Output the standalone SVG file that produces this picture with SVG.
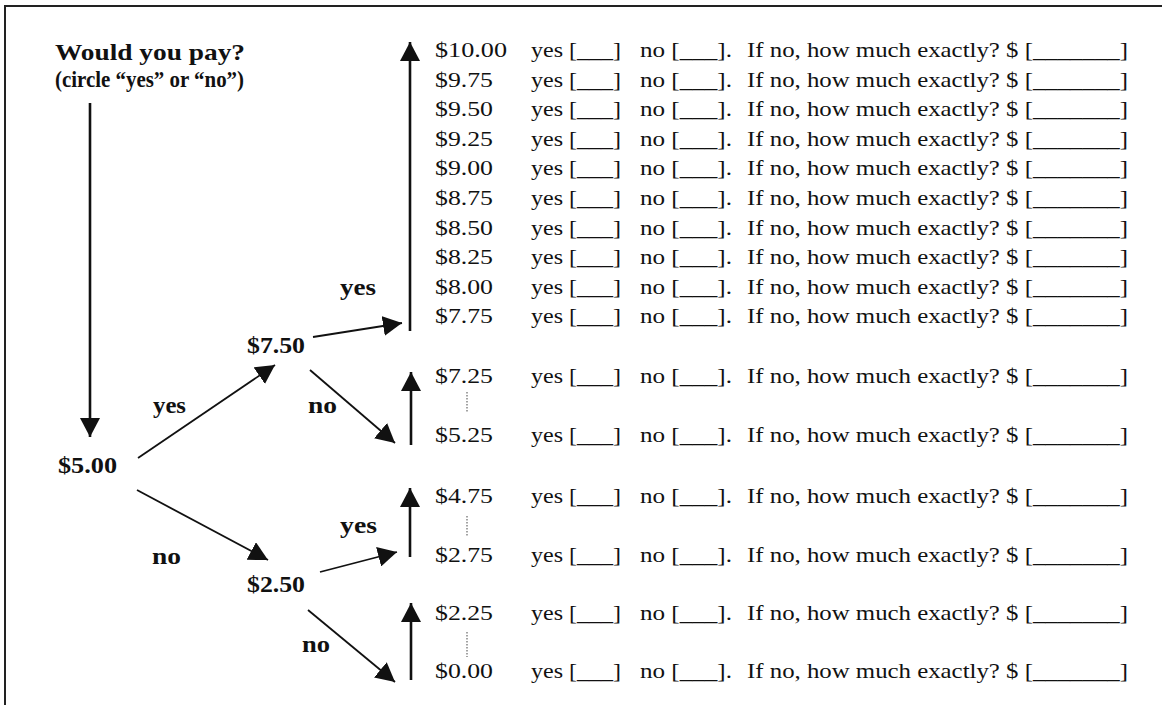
<svg xmlns="http://www.w3.org/2000/svg" width="1162" height="705" viewBox="0 0 1162 705">
<style>
.b{font-family:"Liberation Serif","Times New Roman",serif;font-weight:bold;font-size:24px;fill:#111}
.r{font-family:"Liberation Serif","Times New Roman",serif;font-size:21px;fill:#111}
.ln{stroke:#111;stroke-width:1.8;fill:none}
.vl{stroke:#111;stroke-width:2.6;fill:none}
.dot{stroke:#666;stroke-width:1.2;stroke-dasharray:1.5 1.5;fill:none}
</style>
<defs>
<marker id="ah" markerUnits="userSpaceOnUse" markerWidth="20" markerHeight="20" refX="19" refY="10" orient="auto" viewBox="0 0 20 20">
<path d="M0,0 L19,10 L0,20 z" fill="#111"/>
</marker>
</defs>
<rect width="1162" height="705" fill="#fff"/>
<path d="M5,710 V6 H1170" stroke="#222" stroke-width="2" fill="none"/>

<g id="question">
<text class="b" x="55" y="60" textLength="190" lengthAdjust="spacingAndGlyphs">Would you pay?</text>
<text class="b" x="55" y="87" textLength="189" lengthAdjust="spacingAndGlyphs">(circle “yes” or “no”)</text>
</g>
<g id="n500"><text class="b" x="58" y="473" textLength="59" lengthAdjust="spacingAndGlyphs">$5.00</text></g>
<g id="n750"><text class="b" x="247" y="353" textLength="58" lengthAdjust="spacingAndGlyphs">$7.50</text></g>
<g id="n250"><text class="b" x="247" y="592" textLength="58" lengthAdjust="spacingAndGlyphs">$2.50</text></g>

<g id="connectors">
<line class="vl" x1="90" y1="103" x2="90" y2="437" marker-end="url(#ah)"/>
<line class="ln" x1="138" y1="458" x2="275" y2="365" marker-end="url(#ah)"/>
<line class="ln" x1="313" y1="337" x2="402" y2="323" marker-end="url(#ah)"/>
<line class="vl" x1="410" y1="331" x2="410" y2="42" marker-end="url(#ah)"/>
<line class="ln" x1="310" y1="370" x2="395" y2="443" marker-end="url(#ah)"/>
<line class="vl" x1="411" y1="445" x2="411" y2="372" marker-end="url(#ah)"/>
<line class="ln" x1="137" y1="490" x2="268" y2="560" marker-end="url(#ah)"/>
<line class="vl" x1="410" y1="557" x2="410" y2="488" marker-end="url(#ah)"/>
<line class="ln" x1="320" y1="572" x2="397" y2="552" marker-end="url(#ah)"/>
<line class="vl" x1="411" y1="680" x2="411" y2="603" marker-end="url(#ah)"/>
<line class="ln" x1="308" y1="610" x2="395" y2="682" marker-end="url(#ah)"/>
<text class="b" x="153" y="413" textLength="33" lengthAdjust="spacingAndGlyphs">yes</text>
<text class="b" x="308" y="413" textLength="29" lengthAdjust="spacingAndGlyphs">no</text>
<text class="b" x="340" y="295" textLength="36" lengthAdjust="spacingAndGlyphs">yes</text>
<text class="b" x="340" y="533" textLength="37" lengthAdjust="spacingAndGlyphs">yes</text>
<text class="b" x="152" y="564" textLength="29" lengthAdjust="spacingAndGlyphs">no</text>
<text class="b" x="302" y="652" textLength="28" lengthAdjust="spacingAndGlyphs">no</text>
<line class="dot" x1="467" y1="392" x2="467" y2="412"/>
<line class="dot" x1="467" y1="516" x2="467" y2="536"/>
<line class="dot" x1="467" y1="632" x2="467" y2="657"/>
</g>

<g id="rows">
<g id="row1000"><text class="r" x="435" y="57" textLength="72" lengthAdjust="spacingAndGlyphs">$10.00</text><text class="r" x="531" y="57" textLength="90" lengthAdjust="spacingAndGlyphs">yes [___]</text><text class="r" x="640" y="57" textLength="92" lengthAdjust="spacingAndGlyphs">no [___].</text><text class="r" x="747" y="57" textLength="381" lengthAdjust="spacingAndGlyphs">If no, how much exactly? $ [_______]</text></g>
<g id="row975"><text class="r" x="435" y="86.6" textLength="58" lengthAdjust="spacingAndGlyphs">$9.75</text><text class="r" x="531" y="86.6" textLength="90" lengthAdjust="spacingAndGlyphs">yes [___]</text><text class="r" x="640" y="86.6" textLength="92" lengthAdjust="spacingAndGlyphs">no [___].</text><text class="r" x="747" y="86.6" textLength="381" lengthAdjust="spacingAndGlyphs">If no, how much exactly? $ [_______]</text></g>
<g id="row950"><text class="r" x="435" y="116.2" textLength="58" lengthAdjust="spacingAndGlyphs">$9.50</text><text class="r" x="531" y="116.2" textLength="90" lengthAdjust="spacingAndGlyphs">yes [___]</text><text class="r" x="640" y="116.2" textLength="92" lengthAdjust="spacingAndGlyphs">no [___].</text><text class="r" x="747" y="116.2" textLength="381" lengthAdjust="spacingAndGlyphs">If no, how much exactly? $ [_______]</text></g>
<g id="row925"><text class="r" x="435" y="145.8" textLength="58" lengthAdjust="spacingAndGlyphs">$9.25</text><text class="r" x="531" y="145.8" textLength="90" lengthAdjust="spacingAndGlyphs">yes [___]</text><text class="r" x="640" y="145.8" textLength="92" lengthAdjust="spacingAndGlyphs">no [___].</text><text class="r" x="747" y="145.8" textLength="381" lengthAdjust="spacingAndGlyphs">If no, how much exactly? $ [_______]</text></g>
<g id="row900"><text class="r" x="435" y="175.4" textLength="58" lengthAdjust="spacingAndGlyphs">$9.00</text><text class="r" x="531" y="175.4" textLength="90" lengthAdjust="spacingAndGlyphs">yes [___]</text><text class="r" x="640" y="175.4" textLength="92" lengthAdjust="spacingAndGlyphs">no [___].</text><text class="r" x="747" y="175.4" textLength="381" lengthAdjust="spacingAndGlyphs">If no, how much exactly? $ [_______]</text></g>
<g id="row875"><text class="r" x="435" y="205" textLength="58" lengthAdjust="spacingAndGlyphs">$8.75</text><text class="r" x="531" y="205" textLength="90" lengthAdjust="spacingAndGlyphs">yes [___]</text><text class="r" x="640" y="205" textLength="92" lengthAdjust="spacingAndGlyphs">no [___].</text><text class="r" x="747" y="205" textLength="381" lengthAdjust="spacingAndGlyphs">If no, how much exactly? $ [_______]</text></g>
<g id="row850"><text class="r" x="435" y="234.6" textLength="58" lengthAdjust="spacingAndGlyphs">$8.50</text><text class="r" x="531" y="234.6" textLength="90" lengthAdjust="spacingAndGlyphs">yes [___]</text><text class="r" x="640" y="234.6" textLength="92" lengthAdjust="spacingAndGlyphs">no [___].</text><text class="r" x="747" y="234.6" textLength="381" lengthAdjust="spacingAndGlyphs">If no, how much exactly? $ [_______]</text></g>
<g id="row825"><text class="r" x="435" y="264.2" textLength="58" lengthAdjust="spacingAndGlyphs">$8.25</text><text class="r" x="531" y="264.2" textLength="90" lengthAdjust="spacingAndGlyphs">yes [___]</text><text class="r" x="640" y="264.2" textLength="92" lengthAdjust="spacingAndGlyphs">no [___].</text><text class="r" x="747" y="264.2" textLength="381" lengthAdjust="spacingAndGlyphs">If no, how much exactly? $ [_______]</text></g>
<g id="row800"><text class="r" x="435" y="293.8" textLength="58" lengthAdjust="spacingAndGlyphs">$8.00</text><text class="r" x="531" y="293.8" textLength="90" lengthAdjust="spacingAndGlyphs">yes [___]</text><text class="r" x="640" y="293.8" textLength="92" lengthAdjust="spacingAndGlyphs">no [___].</text><text class="r" x="747" y="293.8" textLength="381" lengthAdjust="spacingAndGlyphs">If no, how much exactly? $ [_______]</text></g>
<g id="row775"><text class="r" x="435" y="323.4" textLength="58" lengthAdjust="spacingAndGlyphs">$7.75</text><text class="r" x="531" y="323.4" textLength="90" lengthAdjust="spacingAndGlyphs">yes [___]</text><text class="r" x="640" y="323.4" textLength="92" lengthAdjust="spacingAndGlyphs">no [___].</text><text class="r" x="747" y="323.4" textLength="381" lengthAdjust="spacingAndGlyphs">If no, how much exactly? $ [_______]</text></g>
<g id="row725"><text class="r" x="435" y="383" textLength="58" lengthAdjust="spacingAndGlyphs">$7.25</text><text class="r" x="531" y="383" textLength="90" lengthAdjust="spacingAndGlyphs">yes [___]</text><text class="r" x="640" y="383" textLength="92" lengthAdjust="spacingAndGlyphs">no [___].</text><text class="r" x="747" y="383" textLength="381" lengthAdjust="spacingAndGlyphs">If no, how much exactly? $ [_______]</text></g>
<g id="row525"><text class="r" x="435" y="442" textLength="58" lengthAdjust="spacingAndGlyphs">$5.25</text><text class="r" x="531" y="442" textLength="90" lengthAdjust="spacingAndGlyphs">yes [___]</text><text class="r" x="640" y="442" textLength="92" lengthAdjust="spacingAndGlyphs">no [___].</text><text class="r" x="747" y="442" textLength="381" lengthAdjust="spacingAndGlyphs">If no, how much exactly? $ [_______]</text></g>
<g id="row475"><text class="r" x="435" y="503" textLength="58" lengthAdjust="spacingAndGlyphs">$4.75</text><text class="r" x="531" y="503" textLength="90" lengthAdjust="spacingAndGlyphs">yes [___]</text><text class="r" x="640" y="503" textLength="92" lengthAdjust="spacingAndGlyphs">no [___].</text><text class="r" x="747" y="503" textLength="381" lengthAdjust="spacingAndGlyphs">If no, how much exactly? $ [_______]</text></g>
<g id="row275"><text class="r" x="435" y="562" textLength="58" lengthAdjust="spacingAndGlyphs">$2.75</text><text class="r" x="531" y="562" textLength="90" lengthAdjust="spacingAndGlyphs">yes [___]</text><text class="r" x="640" y="562" textLength="92" lengthAdjust="spacingAndGlyphs">no [___].</text><text class="r" x="747" y="562" textLength="381" lengthAdjust="spacingAndGlyphs">If no, how much exactly? $ [_______]</text></g>
<g id="row225"><text class="r" x="435" y="620" textLength="58" lengthAdjust="spacingAndGlyphs">$2.25</text><text class="r" x="531" y="620" textLength="90" lengthAdjust="spacingAndGlyphs">yes [___]</text><text class="r" x="640" y="620" textLength="92" lengthAdjust="spacingAndGlyphs">no [___].</text><text class="r" x="747" y="620" textLength="381" lengthAdjust="spacingAndGlyphs">If no, how much exactly? $ [_______]</text></g>
<g id="row000"><text class="r" x="435" y="678" textLength="58" lengthAdjust="spacingAndGlyphs">$0.00</text><text class="r" x="531" y="678" textLength="90" lengthAdjust="spacingAndGlyphs">yes [___]</text><text class="r" x="640" y="678" textLength="92" lengthAdjust="spacingAndGlyphs">no [___].</text><text class="r" x="747" y="678" textLength="381" lengthAdjust="spacingAndGlyphs">If no, how much exactly? $ [_______]</text></g>
</g>
</svg>
